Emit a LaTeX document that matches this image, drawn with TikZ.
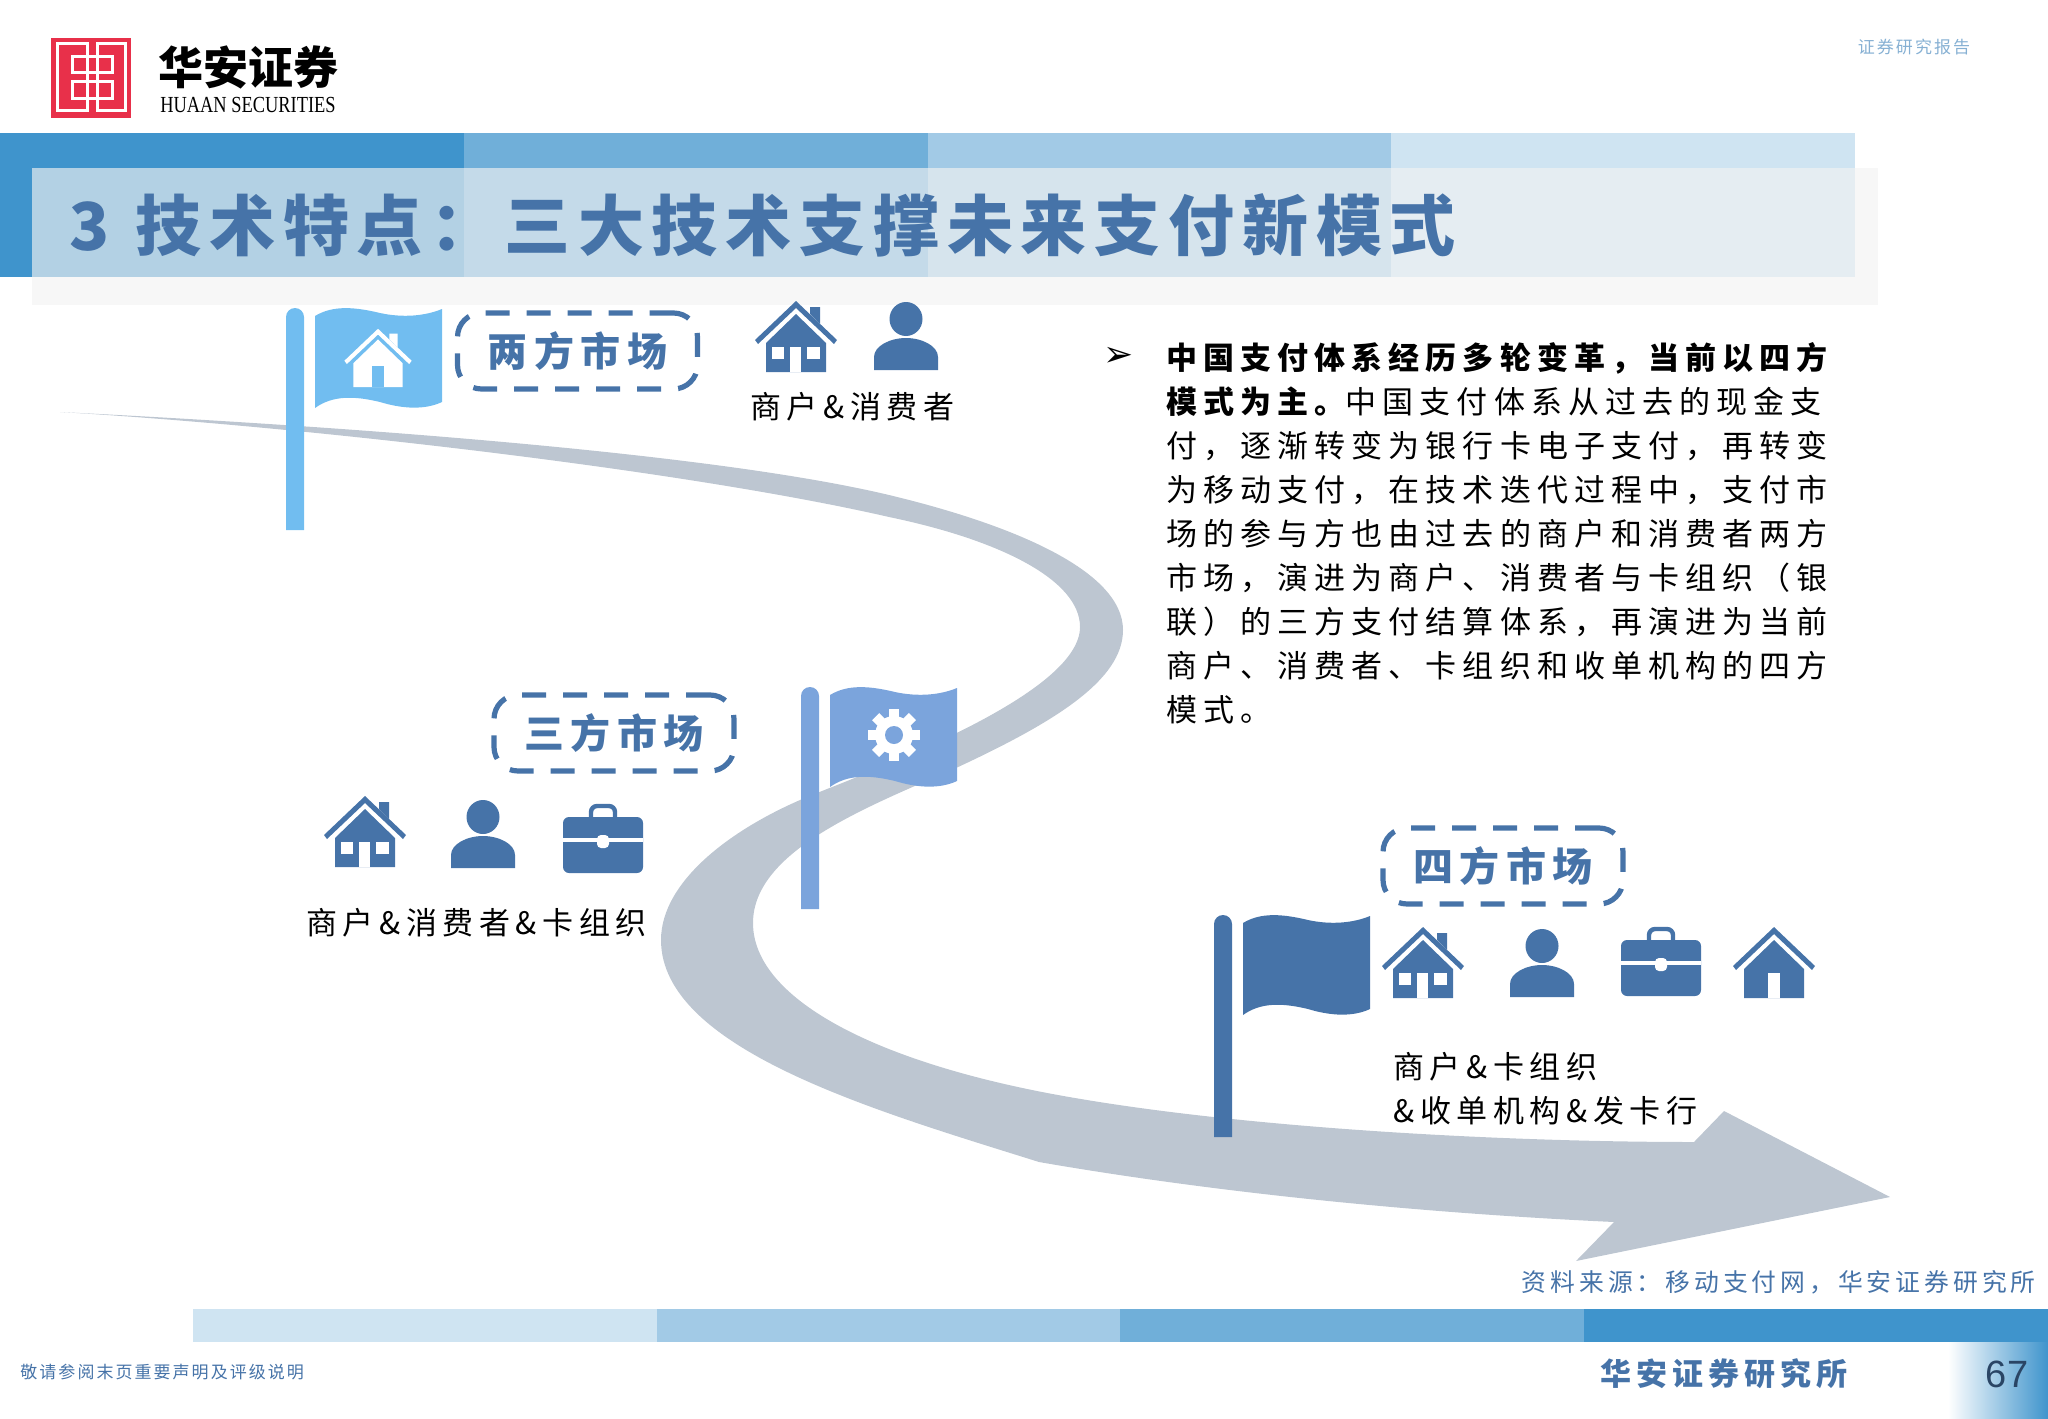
\documentclass[tikz,border=0pt]{standalone}
\usepackage{fontspec}
\setmainfont{Noto Sans CJK SC}
\newfontfamily\bodyfont[LetterSpace=18]{Noto Sans CJK SC}
\newfontfamily\parafont[LetterSpace=19.6]{Noto Sans CJK SC}
\newfontfamily\titlefont[LetterSpace=11.8]{Noto Sans CJK SC}
\newfontfamily\tagfont[LetterSpace=16]{Noto Sans CJK SC}
\newfontfamily\smallfont[LetterSpace=12]{Noto Sans CJK SC}
\newfontfamily\logofont[FakeStretch=0.8]{Liberation Serif}
\newfontfamily\numfont{Liberation Sans}
\newfontfamily\symfont{DejaVu Sans}
\definecolor{roadgrey}{HTML}{BDC6D1}
\definecolor{darkflag}{HTML}{4673A8}
\definecolor{midflag}{HTML}{7BA4DC}
\definecolor{lightflag}{HTML}{71BDF0}
\definecolor{barone}{HTML}{3F94CC}
\definecolor{bartwo}{HTML}{70AFD9}
\definecolor{barthree}{HTML}{A2CAE6}
\definecolor{barfour}{HTML}{CFE4F2}
\definecolor{logored}{HTML}{E8304A}
\tikzset{
	tagbox/.style={draw=darkflag,line width=2.6pt,rounded corners=12pt,dash pattern=on 12pt off 8.5pt,minimum width=120pt,minimum height=38pt,text=darkflag,font=\tagfont\fontsize{20}{20}\selectfont\bfseries},
	blacktext/.style={anchor=west,align=left,text=black,font=\bodyfont\fontsize{15.5}{22}\selectfont},
	pics/flagpic/.style={code={
		\fill[#1] (-9,222) -- (-9,9) arc (180:360:9) -- (9,222) -- cycle;
		\fill[#1] (20,8) .. controls (38,-3) and (60,-1) .. (85,5) .. controls (108,10) and (130,8) .. (147,1) -- (147,94) .. controls (130,102) and (108,101) .. (85,94) .. controls (60,88) and (38,87) .. (20,100) -- cycle;
	}},
	pics/roofpic/.style={code={
		\fill[#1] (-41,-32) -- (0,-71) -- (41,-32) -- (38,-28) -- (0,-64) -- (-38,-28) -- cycle;
	}},
	pics/chimneypic/.style={code={
		\fill[#1] (14,-58) -- (14,-65) -- (24,-65) -- (24,-48) -- cycle;
	}},
	pics/wallpic/.style={code={
		\fill[#1] (-30,0) -- (-30,-29) -- (0,-58) -- (30,-29) -- (30,0) -- cycle;
	}},
	pics/personpic/.style={code={
		\fill[#1] (0,-51) ellipse (16.5 and 17);
		\fill[#1] (-32,0) -- (-32,-13) .. controls (-32,-24) and (-16,-32) .. (0,-32) .. controls (16,-32) and (32,-24) .. (32,-13) -- (32,0) -- cycle;
	}},
	pics/casepic/.style={code={
		\draw[#1,line width=2.2pt,rounded corners=3pt] (-12,-56) -- (-12,-67) -- (12,-67) -- (12,-56);
		\fill[#1,rounded corners=3pt] (-40,0) rectangle (40,-56);
		\fill[white] (-40,-31) rectangle (40,-35);
		\fill[white,rounded corners=2pt] (-6,-25) rectangle (6,-38);
	}},
}
\newcommand{\shopicon}[2]{
	\pic at #1 {roofpic=#2};
	\pic at #1 {chimneypic=#2};
	\pic at #1 {wallpic=#2};
	\begin{scope}[shift={#1}]
		\fill[white] (-24,-25) rectangle (-12,-13);
		\fill[white] (11,-25) rectangle (24,-13);
		\fill[white] (-6,-25) rectangle (5,0);
	\end{scope}
}
\begin{document}
\begin{tikzpicture}[x=.5pt,y=-.5pt]
	\useasboundingbox (0,0) rectangle (2048,1418);
	% header
	\fill[logored] (51,38) rectangle (131,118);
	\begin{scope}[white,line width=1.5pt]
		\draw (87,57) -- (87,44) -- (57,44) -- (57,111) -- (87,111) -- (87,57);
		\draw (97,57) -- (97,44) -- (125,44) -- (125,111) -- (97,111) -- (97,57);
		\draw (72,57) rectangle (112,73);
		\draw (72,82) rectangle (112,99);
	\end{scope}
	\node[inner sep=0,text=black] (logocn) at (248,67) {\fontsize{22.5}{22.5}\selectfont\bfseries 华安证券};
	\node[inner sep=0,text=black] (logoen) at (248,105) {\logofont\fontsize{11.5}{11.5}\selectfont HUAAN SECURITIES};
	\node[inner sep=0,text=barthree!70!darkflag] (reporttag) at (1914,47) {\fontsize{8.5}{8.5}\selectfont\smallfont 证券研究报告};
	% title band
	\fill[barone] (0,133) rectangle (464,277);
	\fill[bartwo] (464,133) rectangle (928,277);
	\fill[barthree] (928,133) rectangle (1391,277);
	\fill[barfour] (1391,133) rectangle (1855,277);
	\fill[black!5,opacity=.65] (32,168) rectangle (1878,305);
	\node[anchor=west,inner sep=0,text=darkflag] (titletext) at (69,225) {\titlefont\fontsize{33}{33}\selectfont\bfseries 3\hspace{1.5pt} 技术特点：三大技术支撑未来支付新模式};
	% road
	\fill[roadgrey] (60,412) .. controls (300,424) and (700,450) .. (889,495)
		.. controls (1010,524) and (1123,570) .. (1123,630)
		.. controls (1123,680) and (1055,722) .. (956,768)
		.. controls (870,806) and (753,850) .. (753,923)
		.. controls (753,1000) and (880,1065) .. (1075,1098)
		.. controls (1250,1128) and (1500,1142) .. (1694,1142)
		-- (1724,1111) -- (1890,1197) -- (1576,1261) -- (1614,1222)
		.. controls (1400,1212) and (1200,1190) .. (1039,1162)
		.. controls (880,1112) and (661,1050) .. (661,940)
		.. controls (661,880) and (735,825) .. (817,793)
		.. controls (900,760) and (1080,690) .. (1080,627)
		.. controls (1080,580) and (1000,540) .. (889,517)
		.. controls (684,470) and (300,426) .. (60,412) -- cycle;
	% flags
	\pic at (295,308) {flagpic=lightflag};
	\pic at (810,687) {flagpic=midflag};
	\pic at (1223,915) {flagpic=darkflag};
	\pic[scale=.82] at (378,387) {roofpic=white};
	\pic[scale=.82] at (378,387) {chimneypic=white};
	\pic[scale=.82] at (378,387) {wallpic=white};
	\fill[lightflag] (372,366) rectangle (384,387);
	\begin{scope}[shift={(894,735)}]
		\foreach \tooth in {0,45,...,315}
			\fill[white,rotate=\tooth] (-5,-26) rectangle (5,-14);
		\fill[white] (0,0) circle (19);
		\fill[midflag] (0,0) circle (9);
	\end{scope}
	% tags
	\node[tagbox] (twotag) at (577.5,351) {两方市场};
	\node[tagbox] (threetag) at (614,733) {三方市场};
	\node[tagbox] (fourtag) at (1503,866) {四方市场};
	% icons
	\shopicon{(796,372)}{darkflag}
	\pic at (906,370) {personpic=darkflag};
	\shopicon{(365,867)}{darkflag}
	\pic at (483,868) {personpic=darkflag};
	\pic at (603,873) {casepic=darkflag};
	\shopicon{(1423,998)}{darkflag}
	\pic at (1542,997) {personpic=darkflag};
	\pic at (1661,996) {casepic=darkflag};
	\pic at (1774,998) {roofpic=darkflag};
	\pic at (1774,998) {wallpic=darkflag};
	\fill[white] (1768,973) rectangle (1780,998);
	% labels
	\node[blacktext,inner sep=0] (twolabel) at (750,407) {商户\&消费者};
	\node[blacktext,inner sep=0] (threelabel) at (306,923) {商户\&消费者\&卡组织};
	\node[blacktext,inner sep=0] (fourlabel) at (1393,1089) {商户\&卡组织\\\&收单机构\&发卡行};
	% paragraph
	\node[inner sep=0,text=black] (bullet) at (1119,357) {\symfont\fontsize{18}{18}\selectfont ➢};
	\node[blacktext,inner sep=0,anchor=north west,font=\parafont\fontsize{15.5}{22}\selectfont] (bodytext) at (1166,342) {{\bfseries 中国支付体系经历多轮变革，当前以四方}\\{\bfseries 模式为主。}中国支付体系从过去的现金支\\付，逐渐转变为银行卡电子支付，再转变\\为移动支付，在技术迭代过程中，支付市\\场的参与方也由过去的商户和消费者两方\\市场，演进为商户、消费者与卡组织（银\\联）的三方支付结算体系，再演进为当前\\商户、消费者、卡组织和收单机构的四方\\模式。};
	% footer
	\node[anchor=east,inner sep=0,text=darkflag] (sourcetext) at (2036,1282) {\tagfont\fontsize{12.4}{12.4}\selectfont 资料来源：移动支付网，华安证券研究所};
	\fill[barfour] (193,1309) rectangle (657,1342);
	\fill[barthree] (657,1309) rectangle (1120,1342);
	\fill[bartwo] (1120,1309) rectangle (1584,1342);
	\fill[barone] (1584,1309) rectangle (2048,1342);
	\shade[left color=white,right color=barone] (1948,1342) rectangle (2048,1418);
	\node[anchor=west,inner sep=0,text=darkflag] (disclaimer) at (20,1372) {\smallfont\fontsize{8.5}{8.5}\selectfont 敬请参阅末页重要声明及评级说明};
	\node[anchor=west,inner sep=0,text=darkflag] (firmname) at (1600,1374) {\tagfont\fontsize{15.5}{15.5}\selectfont\bfseries 华安证券研究所};
	\node[inner sep=0,text=darkflag!60!black] (pagenum) at (2007,1374) {\numfont\fontsize{19}{19}\selectfont 67};
\end{tikzpicture}
\end{document}
